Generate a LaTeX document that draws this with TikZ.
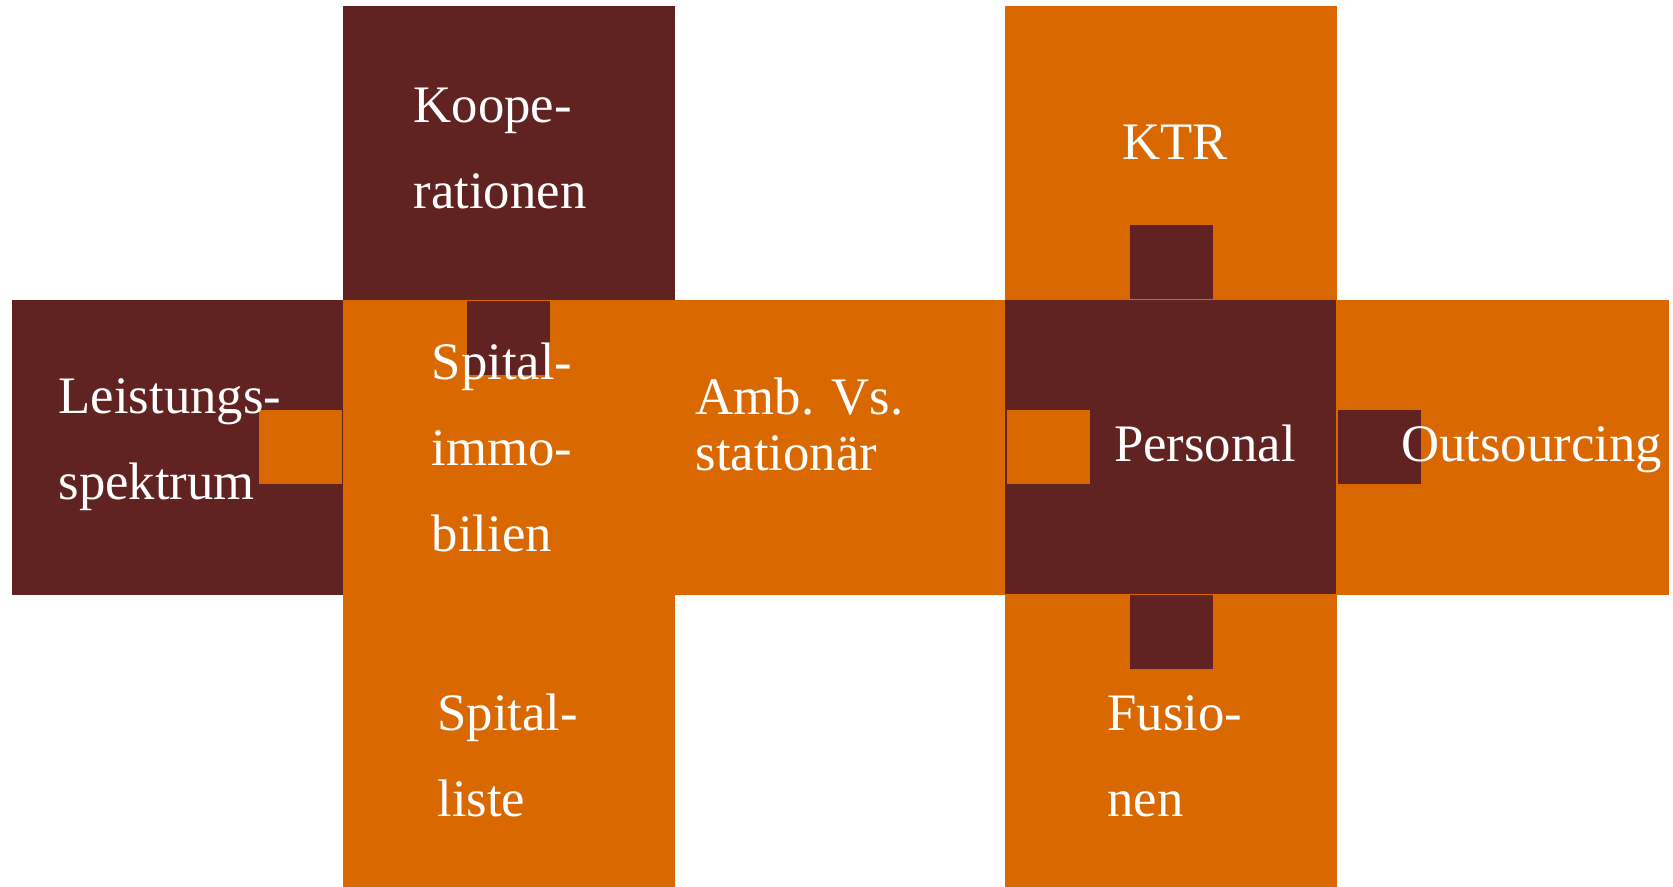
\documentclass[tikz,border=0pt]{standalone}
\usepackage{fontspec}
\setmainfont{Liberation Serif}
\usepackage{tikz}
\definecolor{darkred}{RGB}{97,34,34}
\definecolor{puzzleorange}{RGB}{218,104,0}

\begin{document}
\begin{tikzpicture}
% Define styles
\tikzstyle{darkpiece} = [rectangle, minimum width=3.312cm, minimum height=2.94cm, inner sep=0pt, fill=darkred, draw=darkred, line width=0.2pt]
\tikzstyle{orangepiece} = [rectangle, minimum width=3.312cm, minimum height=2.94cm, inner sep=0pt, fill=puzzleorange, draw=puzzleorange, line width=0.2pt]
\tikzstyle{darktab} = [rectangle, minimum width=0.83cm, minimum height=0.74cm, inner sep=0pt, fill=darkred]
\tikzstyle{orangetab} = [rectangle, minimum width=0.83cm, minimum height=0.74cm, inner sep=0pt, fill=puzzleorange]
\tikzstyle{txt} = [anchor=base west, inner sep=0pt, align=left, text=white, font=\fontsize{15}{24.5}\selectfont]
\useasboundingbox (0,0) rectangle (16.73,8.87);
% Place pieces
\node (koop) [darkpiece] at (5.088,7.34) {};
\node (ktr) [orangepiece] at (11.712,7.34) {};
\node (leist) [darkpiece] at (1.776,4.40) {};
\node (immo) [orangepiece] at (5.088,4.40) {};
\node (amb) [orangepiece] at (8.400,4.40) {};
\node (pers) [darkpiece] at (11.712,4.40) {};
\node (outs) [orangepiece] at (15.024,4.40) {};
\node (liste) [orangepiece] at (5.088,1.46) {};
\node (fus) [orangepiece] at (11.712,1.46) {};
% Place tabs
\node (t1) [orangetab, anchor=east] at (immo.west) {};
\node (t2) [darktab, anchor=north] at (koop.south) {};
\node (t3) [orangetab, anchor=west] at (amb.east) {};
\node (t4) [darktab, anchor=south] at (pers.north) {};
\node (t5) [darktab, anchor=west] at (pers.east) {};
\node (t6) [darktab, anchor=north] at (pers.south) {};
% Place texts (base = last line)
\node (lkoop) [txt] at (4.13,6.786) {Koope-\\rationen};
\node (lktr) [txt] at (11.22,7.27) {KTR};
\node (lleist) [txt] at (0.58,3.87) {Leistungs-\\spektrum};
\node (limmo) [txt] at (4.31,3.354) {Spital-\\immo-\\bilien};
\node (lamb) [txt, font=\fontsize{15}{16.2}\selectfont] at (6.95,4.16) {Amb. Vs.\\stationär};
\node (lpers) [txt] at (11.135,4.255) {Personal};
\node (louts) [txt] at (14.006,4.255) {Outsourcing};
\node (lliste) [txt] at (4.368,0.703) {Spital-\\liste};
\node (lfus) [txt] at (11.067,0.703) {Fusio-\\nen};
\end{tikzpicture}
\end{document}
